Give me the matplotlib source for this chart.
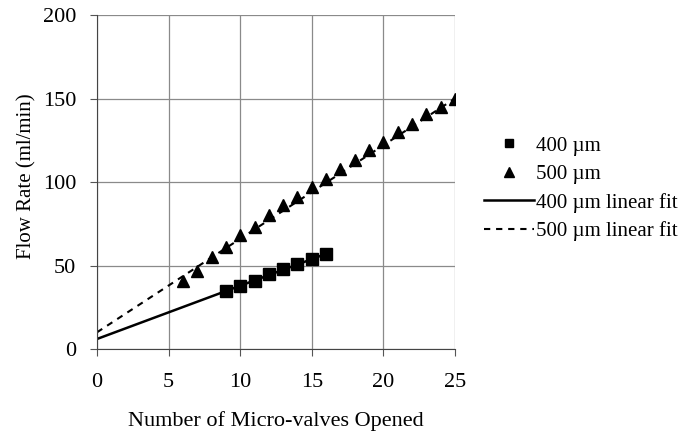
import matplotlib
matplotlib.use("Agg")
import matplotlib.pyplot as plt
import numpy as np

plt.rcParams['font.family'] = ['Liberation Serif', 'DejaVu Serif']

x400 = [9, 10, 11, 12, 13, 14, 15, 16]
y400 = [35, 38, 41, 45, 48, 51, 54, 57]
x500 = [6, 7, 8, 9, 10, 11, 12, 13, 14, 15, 16, 17, 18, 19, 20, 21, 22, 23, 24, 25]
y500 = [41, 47, 55, 61, 68, 73, 80, 86, 91, 97, 102, 108, 113, 119, 124, 130, 135, 141, 145, 150]
fit400_x = [0, 16]
fit400_y = [6, 57]
fit500_x = [0, 25]
fit500_y = [10, 150]
xticks = [0, 5, 10, 15, 20, 25]
yticks = [0, 50, 100, 150, 200]

W, H = 695, 436
fig = plt.figure(figsize=(W / 100, H / 100), dpi=100)
ax = fig.add_axes([97 / W, 1 - 349 / H, (455 - 97) / W, (349 - 15) / H])

ax.plot(x400, y400, 's', color='black', markersize=8, label='400 µm', zorder=3)
ax.plot(x500, y500, '^', color='black', markersize=9, label='500 µm', zorder=3)
ax.plot(fit400_x, fit400_y, '-', color='black', lw=1.8, label='400 µm linear fit', zorder=2)
ax.plot(fit500_x, fit500_y, linestyle=(0, (3, 2.8)), color='black', lw=1.5,
        label='500 µm linear fit', zorder=2)

ax.set_xlim(0, 25)
ax.set_ylim(0, 200)
ax.set_xticks(xticks)
ax.set_yticks(yticks)
ax.grid(True, color='#8a8a8a', lw=0.9, zorder=0)
for s in ['top', 'right']:
    ax.spines[s].set_visible(False)
ax.spines['left'].set_color('#444444')
ax.spines['bottom'].set_color('#444444')
ax.tick_params(axis='both', labelsize=16, length=5, direction='out', color='#555555')
ax.tick_params(axis='x', pad=12)
ax.tick_params(axis='y', pad=10)
ax.set_xlabel('Number of Micro-valves Opened', fontsize=16, labelpad=14)
ax.set_ylabel('Flow Rate (ml/min)', fontsize=15)
ax.yaxis.set_label_coords((36 - 97) / (455 - 97), (349 - 176) / (349 - 15))

fig.legend(loc='upper left', bbox_to_anchor=(484 / W, 1 - 136 / H), frameon=False, fontsize=15,
           handlelength=2.4, labelspacing=0.42, handletextpad=0.12, borderpad=0,
           borderaxespad=0, markerscale=0.8)

fig.savefig('out.png', dpi=100)
